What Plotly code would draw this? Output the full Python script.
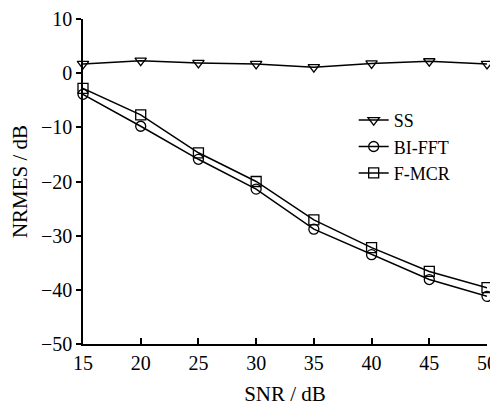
import plotly.graph_objects as go

snr = [15, 20, 25, 30, 35, 40, 45, 50]
ss = [1.7, 2.3, 1.9, 1.7, 1.1, 1.8, 2.2, 1.7]
bi_fft = [-3.9, -9.8, -15.9, -21.4, -28.8, -33.5, -38.1, -41.2]
f_mcr = [-2.8, -7.7, -14.7, -20.0, -27.1, -32.2, -36.6, -39.6]

x_ticks = [15, 20, 25, 30, 35, 40, 45, 50]
y_ticks = [10, 0, -10, -20, -30, -40, -50]
y_tick_text = ["10", "0", "\u221210", "\u221220", "\u221230", "\u221240", "\u221250"]

font_family = "Liberation Serif"

fig = go.Figure()
series = [
    ("SS", ss, "triangle-down-open"),
    ("BI-FFT", bi_fft, "circle-open"),
    ("F-MCR", f_mcr, "square-open"),
]
for name, vals, sym in series:
    fig.add_trace(go.Scatter(
        x=snr, y=vals, name=name, mode="lines+markers",
        line=dict(color="black", width=1.5),
        marker=dict(symbol=sym, size=10, color="black", line=dict(width=1.3, color="black")),
        cliponaxis=False,
    ))

# page body has an 8px default margin; figure is sized/offset to compensate
fig.update_layout(
    width=490, height=402,
    margin=dict(l=75, r=11, t=11, b=66, autoexpand=False),
    paper_bgcolor="white", plot_bgcolor="white",
    font=dict(family=font_family, size=20, color="black"),
    showlegend=True,
    legend=dict(x=0.67, y=0.745, xanchor="left", yanchor="top",
                bgcolor="rgba(0,0,0,0)", font=dict(size=18),
                tracegroupgap=0, itemwidth=30),
    xaxis=dict(range=[15, 50], tickmode="array", tickvals=x_ticks,
               ticks="inside", ticklen=6, tickcolor="black", tickwidth=1.5,
               showline=True, linecolor="black", linewidth=1.5,
               showgrid=False, zeroline=False, automargin=False,
               title=dict(text="SNR / dB", standoff=14, font=dict(size=21)),
               tickfont=dict(size=20)),
    yaxis=dict(range=[-50, 10], tickmode="array", tickvals=y_ticks, ticktext=y_tick_text,
               ticks="outside", ticklen=5, tickcolor="black", tickwidth=1.5,
               showline=True, linecolor="black", linewidth=1.5,
               showgrid=False, zeroline=False, automargin=False,
               title=dict(text="NRMES / dB", standoff=20, font=dict(size=21)),
               tickfont=dict(size=20)),
)

fig.write_html("out.html")
